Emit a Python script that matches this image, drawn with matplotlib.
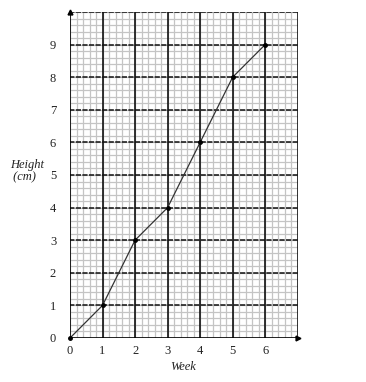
import numpy as np
import matplotlib.pyplot as plt

weeks = [0, 1, 2, 3, 4, 5, 6]
heights = [0, 1, 3, 4, 6, 8, 9]
x_ticks = [0, 1, 2, 3, 4, 5, 6]
y_ticks = [0, 1, 2, 3, 4, 5, 6, 7, 8, 9]

plt.rcParams["font.family"] = ["Liberation Serif", "DejaVu Serif"]

fig = plt.figure(figsize=(3.66, 3.82), dpi=100)
ax = fig.add_axes([0.1913, 0.1152, 0.6221, 0.8534])
ax.set_xlim(0, 7)
ax.set_ylim(0, 10)

# graph paper: fine grey grid every 0.2
for v in np.arange(0, 7.01, 0.2):
    ax.axvline(v, color="#c4c4c4", lw=0.9, zorder=1)
for v in np.arange(0, 10.01, 0.2):
    ax.axhline(v, color="#c4c4c4", lw=0.9, zorder=1)

# heavy lines every unit
for v in range(1, 8):
    ax.axvline(v, color="#111111", lw=1.2, zorder=2)
for v in range(1, 11):
    ax.axhline(v, color="#111111", lw=1.1, ls=(0.5, (3.4, 0.9)), zorder=2)

for s in ax.spines.values():
    s.set_visible(False)
ax.axvline(0, color="black", lw=1.2, zorder=3)
ax.axhline(0, color="black", lw=1.2, zorder=3)

# axis arrows
ax.plot([0], [10], marker="^", color="black", ms=3.5, clip_on=False, zorder=4)
ax.plot([7], [0], marker=">", color="black", ms=3.5, clip_on=False, zorder=4)

ax.plot(weeks, heights, color="#333333", lw=0.9, marker="o", ms=2.5,
        mfc="black", mec="black", zorder=5, clip_on=False)

ax.set_xticks(x_ticks)
ax.set_yticks(y_ticks)
ax.tick_params(length=0, labelsize=9, labelcolor="#222222")
ax.tick_params(axis="y", pad=10)
ax.tick_params(axis="x", pad=5)

fig.text(0.027, 0.552, "Height\n (cm)", style="italic", fontsize=9,
         color="#222222", ha="left", va="center", linespacing=1.0)
fig.text(0.5, 0.04, "Week", style="italic", fontsize=9, color="#222222",
         ha="center", va="center")

fig.savefig("out.png", dpi=100)
